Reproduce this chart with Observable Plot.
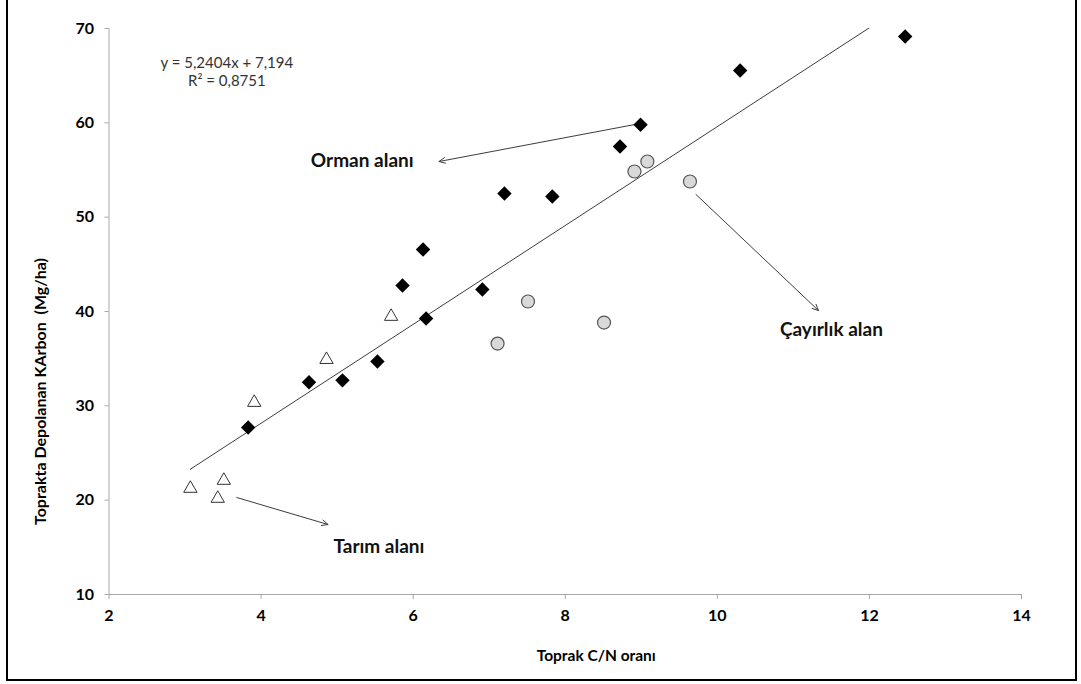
<!DOCTYPE html>
<html><head><meta charset="utf-8">
<script src="https://cdn.jsdelivr.net/npm/d3@7"></script>
<script src="https://cdn.jsdelivr.net/npm/@observablehq/plot@0.6"></script>
<style>
html,body{margin:0;padding:0;background:#fff;overflow:hidden;}
#chart{position:absolute;left:0;top:0;}
#frame{position:absolute;left:6px;top:-4px;width:1071px;height:685px;border:2px solid #000;box-sizing:border-box;pointer-events:none;}
</style></head><body>
<div id="chart"></div><div id="frame"></div>
<script>
// ---- data ----
const ormanX = [3.83, 4.63, 5.07, 5.53, 5.86, 6.13, 6.17, 6.91, 7.20, 7.83, 8.72, 8.99, 10.30, 12.47];
const ormanY = [27.7, 32.5, 32.7, 34.7, 42.76, 46.57, 39.26, 42.33, 52.5, 52.2, 57.5, 59.8, 65.55, 69.15];
const cayirX = [9.08, 8.91, 9.64, 7.51, 8.51, 7.11];
const cayirY = [55.9, 54.84, 53.78, 41.06, 38.83, 36.6];
const tarimX = [5.71, 4.86, 3.91, 3.07, 3.51, 3.43];
const tarimY = [39.47, 34.9, 30.35, 21.24, 22.09, 20.18];
const xTicks = [2, 4, 6, 8, 10, 12, 14];
const yTicks = [10, 20, 30, 40, 50, 60, 70];
const slope = 5.2404, intercept = 7.194;
const equationLines = ["y = 5,2404x + 7,194", "R\u00b2 = 0,8751"];
const xLabel = "Toprak C/N oranı";
const yLabel = "Toprakta Depolanan KArbon\u00a0 (Mg/ha)";
const annoLabels = ["Orman alanı", "Çayırlık alan", "Tarım alanı"];

// ---- annotation placement (data units) ----
const annoText = [{x: 5.33, y: 56.0}, {x: 11.5, y: 38.0}, {x: 5.55, y: 15.0}];
const annoArrows = [
  {x1: 8.92, y1: 59.83, x2: 6.34, y2: 55.9},
  {x1: 9.72, y1: 52.4, x2: 11.33, y2: 40.1},
  {x1: 3.68, y1: 20.28, x2: 4.88, y2: 17.42}
];
const eqPos = [{x: 3.55, y: 66.3}, {x: 3.55, y: 64.4}];

// ---- tables ----
const orman = ormanX.map((x, i) => ({x, y: ormanY[i]}));
const cayir = cayirX.map((x, i) => ({x, y: cayirY[i]}));
const tarim = tarimX.map((x, i) => ({x, y: tarimY[i]}));
const allX = [...ormanX, ...cayirX, ...tarimX];
const ext = d3.extent(allX);
const trend = ext.map(x => ({x, y: slope * x + intercept}));
const eq = equationLines.map((t, i) => ({t, ...eqPos[i]}));
const annos = annoLabels.map((t, i) => ({t, ...annoText[i]}));

const axisGray = "#a8a8a8";
const font = "Lato, 'Open Sans', sans-serif";

const plot = Plot.plot({
  width: 1081, height: 684,
  marginLeft: 108.5, marginRight: 60, marginTop: 28, marginBottom: 90,
  style: {fontFamily: font, background: "white", overflow: "visible"},
  x: {domain: [2, 14]},
  y: {domain: [10, 70]},
  marks: [
    Plot.ruleY([10], {stroke: axisGray}),
    Plot.ruleX([2], {stroke: axisGray}),
    Plot.axisX(xTicks, {tickSize: 5, tickPadding: 10.5, stroke: axisGray, color: "#000", fontSize: 16, fontWeight: "bold", label: null}),
    Plot.axisY(yTicks, {tickSize: 4, tickPadding: 11, stroke: axisGray, color: "#000", fontSize: 16, fontWeight: "bold", label: null}),
    Plot.text([xLabel], {frameAnchor: "bottom", text: d => d, textAnchor: "middle", dx: 31, dy: 66, fontSize: 15.5, fontWeight: "bold", fill: "#000"}),
    Plot.text([yLabel], {frameAnchor: "left", text: d => d, textAnchor: "middle", rotate: -90, dx: -68.5, dy: 80, fontSize: 16, fontWeight: "bold", fill: "#000"}),
    Plot.line(trend, {x: "x", y: "y", stroke: "#3c3c3c", strokeWidth: 1, clip: true}),
    Plot.arrow(annoArrows, {x1: "x1", y1: "y1", x2: "x2", y2: "y2", stroke: "#3c3c3c", strokeWidth: 1, headAngle: 50, headLength: 10}),
    Plot.dot(tarim, {x: "x", y: "y", symbol: "triangle", r: 4.95, fill: "#fff", stroke: "#333", strokeWidth: 1}),
    Plot.dot(cayir, {x: "x", y: "y", symbol: "circle", r: 6.5, fill: "#d9d9d9", stroke: "#555", strokeWidth: 1.2}),
    Plot.dot(orman, {x: "x", y: "y", symbol: "diamond2", r: 6.5, fill: "#000", stroke: "none"}),
    Plot.text(eq, {x: "x", y: "y", text: "t", fontSize: 15, fill: "#333"}),
    Plot.text(annos, {x: "x", y: "y", text: "t", fontSize: 19, fontWeight: "bold", fill: "#111"})
  ]
});
document.getElementById("chart").appendChild(plot);
</script>
</body></html>
